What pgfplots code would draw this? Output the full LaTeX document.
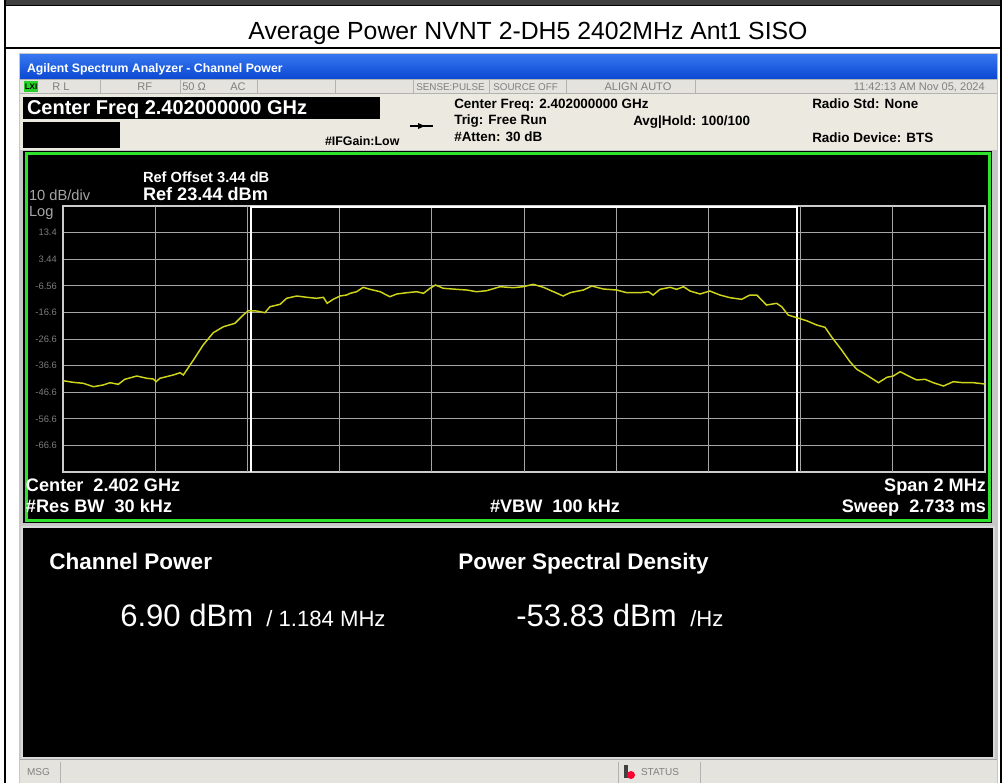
\documentclass[border=0pt]{standalone}
\usepackage{fontspec}
\setmainfont{Liberation Sans}
\usepackage{pgfplots}
\pgfplotsset{compat=1.18}
\definecolor{xpblue}{RGB}{10,72,210}
\definecolor{xpblueL}{RGB}{55,120,240}
\definecolor{hdrbg}{RGB}{236,234,224}
\definecolor{stbg}{RGB}{228,227,222}
\definecolor{grn}{RGB}{45,225,45}
\definecolor{trace}{RGB}{205,212,25}
\definecolor{gridc}{RGB}{165,165,165}
\definecolor{lbl}{RGB}{125,125,125}
\definecolor{lxi}{RGB}{40,210,40}
\newcommand{\fs}[1]{\fontsize{#1pt}{#1pt}\selectfont}

\begin{document}
\begin{tikzpicture}
\begin{scope}[x=0.75pt,y=-0.75pt,every node/.style={inner sep=0pt,outer sep=0pt}]
\path[use as bounding box] (0,0) rectangle (1004,783);
\fill[white] (0,0) rectangle (1004,783);
% table frame
\fill[black!75] (5,0) rectangle (1001,5);
\draw[black,line width=1.1pt] (5,0) -- (5,783);
\draw[black,line width=1.1pt] (1001,0) -- (1001,783);
\draw[black,line width=1.1pt] (5,5.5) -- (1001,5.5);
\draw[black,line width=1.1pt] (5,48) -- (1001,48);
\node[anchor=base,font=\fs{18.6}] at (528,39) {Average Power NVNT 2-DH5 2402MHz Ant1 SISO};
% screenshot frame
\fill[black!22] (19,53) rectangle (998,783);
\shade[top color=xpblueL,bottom color=xpblue] (20,54) rectangle (997,79);
\node[anchor=base west,text=white,font=\bfseries\fs{9.2}] at (27,72) {Agilent Spectrum Analyzer - Channel Power};
% status row
\fill[stbg] (20,79) rectangle (997,94);
\draw[black!30,line width=0.6pt] (20,79.5) -- (997,79.5);
\draw[black!30,line width=0.6pt] (20,93.5) -- (997,93.5);
\foreach \xx in {100,180,257,335,413,489,566,695}
  \draw[black!30,line width=0.6pt] (\xx,80) -- (\xx,93);
\fill[lxi] (24,81) rectangle (38,92);
\node[anchor=base,font=\bfseries\fs{6}] at (31,89.5) {LXI};
\begin{scope}[every node/.style={inner sep=0pt,text=black!50,font=\fs{8.3}}]
\node[anchor=base west] at (52,90.5) {R L};
\node[anchor=base west] at (137,90.5) {RF};
\node[anchor=base west] at (182,90.5) {50 Ω};
\node[anchor=base west] at (230,90.5) {AC};
\node[anchor=base west,font=\fs{7.4}] at (416,90.5) {SENSE:PULSE};
\node[anchor=base west,font=\fs{7.4}] at (493,90.5) {SOURCE OFF};
\node[anchor=base] at (638,90.5) {ALIGN AUTO};
\node[anchor=base east] at (985,90.5) {11:42:13 AM Nov 05, 2024};
\end{scope}
% header
\fill[hdrbg] (20,94) rectangle (997,150);
\fill[black] (23,97) rectangle (380,119);
\node[anchor=base west,text=white,font=\bfseries\fs{15}] at (27,114) {Center Freq 2.402000000 GHz};
\fill[black] (23,122) rectangle (120,148);
\node[anchor=base west,font=\bfseries\fs{9.3}] at (325,145) {\#IFGain:Low};
\draw[line width=0.8pt] (410,126) -- (433,126);
\fill (418,123) -- (425,126) -- (418,129) -- cycle;
\begin{scope}[every node/.style={inner sep=0pt,font=\bfseries\fs{10.1}}]
\node[anchor=base west] at (454,108) {Center Freq: 2.402000000 GHz};
\node[anchor=base west] at (454,124.5) {Trig: Free Run};
\node[anchor=base west] at (454,141) {\#Atten: 30 dB};
\node[anchor=base west] at (633,125) {Avg|Hold: 100/100};
\node[anchor=base west] at (812,108) {Radio Std: None};
\node[anchor=base west] at (812,142) {Radio Device: BTS};
\end{scope}
% plot panel
\fill[black] (23,151) rectangle (992,523);
\draw[grn,line width=2.25pt] (26.5,153.5) rectangle (989.5,520.5);
\node[anchor=base west,text=white,font=\bfseries\fs{11}] at (143,182) {Ref Offset 3.44 dB};
\node[anchor=base west,text=white,font=\bfseries\fs{13.6}] at (143,200) {Ref 23.44 dBm};
\node[anchor=base west,text=black!35,font=\fs{11}] at (29,200) {10 dB/div};
\node[anchor=base west,text=black!35,font=\fs{11}] at (29,216) {Log};
% lower panel
\fill[black] (22,527) rectangle (994,758);
\draw[black!15,line width=0.8pt] (22,527) rectangle (994,758);
\begin{scope}[every node/.style={inner sep=0pt,text=white}]
\node[anchor=base west,font=\bfseries\fs{16.9}] at (49,569) {Channel Power};
\node[anchor=base west,font=\bfseries\fs{16.9}] at (458,569) {Power Spectral Density};
\node[anchor=base west,font=\fs{23.3}] at (120,626) {6.90 dBm};
\node[anchor=base west,font=\fs{16.6}] at (266,626) {/ 1.184 MHz};
\node[anchor=base west,font=\fs{23.3}] at (516,626) {-53.83 dBm};
\node[anchor=base west,font=\fs{16.6}] at (690,626) {/Hz};
\end{scope}
% status bar
\fill[stbg] (20,759) rectangle (997,783);
\draw[black!35,line width=0.6pt] (20,759.5) -- (997,759.5);
\draw[black!30,line width=0.6pt] (60,762) -- (60,783);
\draw[black!30,line width=0.6pt] (618,762) -- (618,783);
\draw[black!30,line width=0.6pt] (700,762) -- (700,783);
\node[anchor=base west,text=black!50,font=\fs{7.5}] at (27,775) {MSG};
\fill[black!75] (624,765) rectangle (628,778);
\fill[red!80!magenta] (631,775) circle (4);
\node[anchor=base west,text=black!50,font=\fs{7.5}] at (641,775) {STATUS};
\coordinate (PL) at (63,472);
\end{scope}
\begin{axis}[at={(PL)},anchor=south west,scale only axis,
  width=691.5pt,height=199.5pt,
  xmin=-1,xmax=1,ymin=-76.56,ymax=23.44,
  axis line style={draw=black!20,line width=1.1pt},
  xtick=\empty,
  ytick={-66.56,-56.56,-46.56,-36.56,-26.56,-16.56,-6.56,3.44,13.44},
  yticklabels={-66.6,-56.6,-46.6,-36.6,-26.6,-16.6,-6.56,3.44,13.4},
  major tick length=0pt,
  ymajorgrids=true,
  grid style={draw=gridc,line width=0.75pt},
  yticklabel style={font=\fs{7},text=lbl,inner sep=0pt,xshift=-4.5pt},
  clip=true]
\draw[gridc,line width=0.75pt] (axis cs:-0.8,-76.56) -- (axis cs:-0.8,23.44);
\draw[gridc,line width=0.75pt] (axis cs:-0.6,-76.56) -- (axis cs:-0.6,23.44);
\draw[gridc,line width=0.75pt] (axis cs:-0.4,-76.56) -- (axis cs:-0.4,23.44);
\draw[gridc,line width=0.75pt] (axis cs:-0.2,-76.56) -- (axis cs:-0.2,23.44);
\draw[gridc,line width=0.75pt] (axis cs:0,-76.56) -- (axis cs:0,23.44);
\draw[gridc,line width=0.75pt] (axis cs:0.2,-76.56) -- (axis cs:0.2,23.44);
\draw[gridc,line width=0.75pt] (axis cs:0.4,-76.56) -- (axis cs:0.4,23.44);
\draw[gridc,line width=0.75pt] (axis cs:0.6,-76.56) -- (axis cs:0.6,23.44);
\draw[gridc,line width=0.75pt] (axis cs:0.8,-76.56) -- (axis cs:0.8,23.44);
\draw[white,line width=1.3pt] (axis cs:-0.592,-76.56) -- (axis cs:-0.592,23.44);
\draw[white,line width=1.3pt] (axis cs:0.592,-76.56) -- (axis cs:0.592,23.44);
\draw[white,line width=1.3pt] (axis cs:-0.592,23.2) -- (axis cs:0.592,23.2);
\addplot[trace,line width=1.1pt,no markers] coordinates {
(-1.000,-42.24) (-0.978,-42.84) (-0.956,-43.21) (-0.934,-44.49) (-0.913,-43.85)
(-0.898,-42.99) (-0.880,-43.59) (-0.866,-41.71) (-0.840,-40.47) (-0.818,-41.33)
(-0.804,-41.60) (-0.798,-42.61) (-0.790,-41.33) (-0.761,-40.09) (-0.746,-39.23)
(-0.739,-40.09) (-0.717,-34.45) (-0.696,-28.82) (-0.674,-24.19) (-0.652,-21.94)
(-0.627,-20.66) (-0.609,-17.54) (-0.598,-15.92) (-0.580,-16.03) (-0.562,-16.67)
(-0.551,-14.42) (-0.529,-13.51) (-0.515,-11.26) (-0.493,-10.39) (-0.471,-10.88)
(-0.450,-11.26) (-0.435,-10.88) (-0.427,-13.14) (-0.414,-11.64) (-0.399,-10.39)
(-0.385,-10.02) (-0.377,-9.38) (-0.363,-8.78) (-0.349,-7.12) (-0.334,-7.88)
(-0.312,-8.78) (-0.291,-10.66) (-0.276,-9.64) (-0.254,-9.15) (-0.233,-8.78)
(-0.218,-9.38) (-0.204,-7.50) (-0.192,-6.26) (-0.175,-7.50) (-0.146,-7.88)
(-0.124,-8.14) (-0.103,-8.78) (-0.081,-8.40) (-0.052,-6.90) (-0.023,-7.27)
(-0.002,-6.90) (0.020,-6.00) (0.042,-7.12) (0.064,-8.78) (0.085,-10.39)
(0.100,-9.15) (0.114,-8.63) (0.129,-8.14) (0.147,-6.64) (0.172,-7.76)
(0.201,-8.14) (0.223,-9.15) (0.252,-9.15) (0.270,-8.78) (0.280,-10.02)
(0.295,-7.88) (0.317,-7.12) (0.331,-7.88) (0.346,-6.90) (0.360,-8.51)
(0.382,-9.64) (0.403,-8.51) (0.425,-10.02) (0.447,-11.03) (0.472,-11.64)
(0.490,-10.02) (0.505,-10.02) (0.526,-13.78) (0.548,-13.14) (0.559,-14.42)
(0.573,-17.54) (0.592,-18.55) (0.613,-19.68) (0.635,-21.30) (0.653,-22.16)
(0.667,-25.70) (0.689,-30.70) (0.707,-35.09) (0.722,-37.95) (0.743,-40.09)
(0.769,-42.99) (0.787,-40.96) (0.801,-40.47) (0.816,-38.85) (0.837,-40.73)
(0.852,-41.97) (0.870,-41.71) (0.888,-42.99) (0.910,-44.23) (0.931,-42.61)
(0.953,-42.99) (0.975,-42.99) (1.000,-43.48)
};
\end{axis}
\begin{scope}[x=0.75pt,y=-0.75pt,every node/.style={inner sep=0pt,outer sep=0pt,text=white,font=\bfseries\fs{13.6}}]
\node[anchor=base west] at (26,491) {Center\ \ 2.402 GHz};
\node[anchor=base west] at (26,512) {\#Res BW\ \ 30 kHz};
\node[anchor=base west] at (490,512) {\#VBW\ \ 100 kHz};
\node[anchor=base east] at (986,491) {Span 2 MHz};
\node[anchor=base east] at (986,512) {Sweep\ \ 2.733 ms};
\end{scope}
\end{tikzpicture}
\end{document}
